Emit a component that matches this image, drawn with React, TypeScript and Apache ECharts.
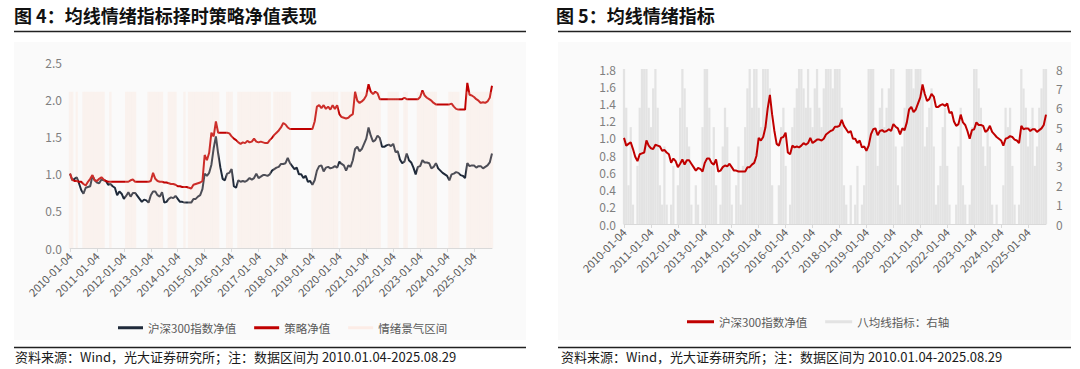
import React, { useEffect, useRef } from "react";
import * as echarts from "echarts";

// ---- tick labels / categories ----
const yearTicks = [
  "2010-01-04", "2011-01-04", "2012-01-04", "2013-01-04", "2014-01-04", "2015-01-04",
  "2016-01-04", "2017-01-04", "2018-01-04", "2019-01-04", "2020-01-04", "2021-01-04",
  "2022-01-04", "2023-01-04", "2024-01-04", "2025-01-04",
];
const lastDate = "2025-08-29";

// ---- series values (monthly samples) ----
const csi300 = [
  1.00, 0.91, 0.93, 0.95, 0.87, 0.78, 0.73, 0.81, 0.82, 0.83, 0.97, 0.91,
  0.88, 0.87, 0.92, 0.91, 0.90, 0.85, 0.86, 0.83, 0.81, 0.71, 0.76, 0.73,
  0.66, 0.70, 0.75, 0.69, 0.74, 0.74, 0.70, 0.66, 0.62, 0.65, 0.64, 0.61,
  0.71, 0.76, 0.76, 0.71, 0.69, 0.75, 0.61, 0.62, 0.66, 0.68, 0.67, 0.70,
  0.66, 0.62, 0.62, 0.61, 0.61, 0.61, 0.61, 0.66, 0.66, 0.69, 0.71, 0.79,
  1.00, 0.97, 1.01, 1.12, 1.34, 1.50, 1.27, 1.08, 0.93, 0.91, 1.00, 1.01,
  1.06, 0.83, 0.81, 0.91, 0.89, 0.90, 0.89, 0.91, 0.94, 0.92, 0.94, 1.00,
  0.94, 0.96, 0.98, 0.98, 0.97, 0.99, 1.04, 1.06, 1.08, 1.09, 1.13, 1.13,
  1.14, 1.21, 1.14, 1.10, 1.06, 1.08, 0.99, 0.99, 0.94, 0.97, 0.89, 0.90,
  0.85, 0.91, 1.04, 1.10, 1.11, 1.03, 1.08, 1.09, 1.07, 1.08, 1.10, 1.08,
  1.16, 1.13, 1.11, 1.04, 1.11, 1.09, 1.18, 1.33, 1.36, 1.30, 1.33, 1.40,
  1.47, 1.62, 1.51, 1.43, 1.45, 1.51, 1.48, 1.36, 1.36, 1.38, 1.39, 1.37,
  1.40, 1.29, 1.30, 1.19, 1.14, 1.16, 1.27, 1.18, 1.15, 1.08, 0.99, 1.09,
  1.10, 1.18, 1.15, 1.15, 1.14, 1.07, 1.09, 1.14, 1.07, 1.04, 1.01, 0.99,
  0.97, 0.91, 0.99, 1.00, 1.02, 1.01, 0.98, 0.97, 0.94, 1.14, 1.10, 1.11,
  1.11, 1.08, 1.10, 1.10, 1.07, 1.09, 1.11, 1.15, 1.27,
];

const strategy = [
  1.00, 0.92, 0.90, 0.90, 0.89, 0.89, 0.86, 0.84, 0.89, 0.93, 0.98, 0.91,
  0.90, 0.93, 0.95, 0.92, 0.90, 0.89, 0.89, 0.89, 0.89, 0.89, 0.89, 0.89,
  0.89, 0.89, 0.89, 0.91, 0.92, 0.89, 0.89, 0.89, 0.89, 0.89, 0.89, 0.89,
  0.90, 1.01, 0.93, 0.90, 0.89, 0.89, 0.88, 0.88, 0.87, 0.86, 0.86, 0.85,
  0.83, 0.83, 0.82, 0.82, 0.82, 0.81, 0.80, 0.85, 0.86, 0.87, 0.88, 0.90,
  1.25, 1.18, 1.28, 1.55, 1.50, 1.70, 1.55, 1.55, 1.55, 1.55, 1.55, 1.54,
  1.50, 1.47, 1.45, 1.42, 1.40, 1.42, 1.41, 1.44, 1.42, 1.43, 1.47, 1.43,
  1.42, 1.43, 1.42, 1.41, 1.41, 1.45, 1.48, 1.52, 1.55, 1.58, 1.62, 1.68,
  1.66, 1.62, 1.60, 1.60, 1.60, 1.60, 1.60, 1.60, 1.60, 1.60, 1.60, 1.60,
  1.60, 1.70, 1.90, 1.92, 1.88, 1.92, 1.87, 1.90, 1.86, 1.92, 1.87, 1.92,
  1.80, 1.76, 1.75, 1.74, 1.75, 1.78, 1.80, 2.10, 1.98, 1.95, 1.97, 2.00,
  2.05, 2.20, 2.10, 2.07, 2.10, 2.08, 2.00, 2.00, 2.00, 2.00, 2.00, 2.00,
  2.00, 2.00, 2.00, 2.00, 2.00, 2.02, 2.00, 2.00, 2.00, 2.00, 2.00, 2.00,
  2.03, 2.12, 2.05, 2.02, 2.00, 1.98, 1.95, 1.93, 1.93, 1.93, 1.93, 1.93,
  1.93, 1.93, 1.94, 1.90, 1.87, 1.86, 1.86, 1.86, 1.86, 2.22, 2.06, 2.05,
  2.03, 2.00, 1.98, 1.95, 1.96, 1.95, 1.97, 2.02, 2.18,
];

// 1 = inside the "情绪景气区间" shading
const sentimentOn = [
  1, 1, 0, 1, 0, 0, 1, 1, 1, 1, 1, 1,
  1, 1, 1, 1, 0, 0, 1, 0, 0, 0, 0, 0,
  0, 1, 1, 1, 1, 1, 0, 0, 0, 0, 0, 1,
  1, 1, 1, 1, 1, 1, 0, 0, 1, 1, 1, 1,
  0, 0, 0, 1, 0, 1, 1, 1, 1, 1, 1, 1,
  1, 1, 1, 1, 1, 1, 1, 0, 0, 0, 1, 1,
  1, 0, 0, 1, 1, 1, 1, 1, 1, 1, 1, 1,
  1, 1, 1, 1, 1, 1, 0, 1, 1, 1, 1, 1,
  1, 1, 1, 0, 0, 0, 0, 0, 0, 0, 0, 0,
  1, 1, 1, 1, 1, 1, 1, 1, 1, 1, 1, 1,
  0, 1, 1, 1, 1, 1, 1, 1, 1, 1, 1, 1,
  1, 1, 1, 1, 1, 1, 1, 0, 0, 0, 1, 1,
  1, 1, 1, 0, 0, 1, 1, 0, 0, 0, 0, 1,
  1, 1, 1, 1, 1, 1, 1, 1, 0, 0, 0, 0,
  0, 1, 1, 1, 1, 1, 0, 0, 0, 1, 1, 1,
  1, 1, 1, 1, 1, 1, 1, 1, 1,
];
const bandTop = 2.1;

// 八均线指标 (0-8, right axis)
const eightMA = [
  8, 6, 2, 5, 1, 0, 3, 6, 8, 8, 8, 6,
  5, 7, 8, 6, 2, 1, 4, 1, 0, 1, 3, 0,
  2, 6, 8, 7, 5, 4, 1, 0, 2, 1, 0, 5,
  8, 8, 6, 3, 5, 2, 0, 1, 4, 6, 5, 3,
  1, 0, 2, 4, 1, 3, 5, 7, 8, 6, 8, 8,
  6, 5, 8, 8, 8, 7, 2, 0, 0, 2, 5, 6,
  3, 0, 1, 5, 6, 7, 8, 8, 7, 6, 8, 6,
  5, 7, 8, 6, 5, 7, 8, 8, 8, 7, 8, 8,
  8, 6, 2, 1, 0, 2, 0, 1, 3, 0, 1, 2,
  4, 8, 8, 8, 5, 3, 6, 7, 5, 6, 7, 8,
  8, 4, 2, 1, 4, 6, 8, 8, 8, 7, 8, 8,
  8, 7, 4, 5, 6, 7, 4, 1, 2, 3, 5, 6,
  3, 1, 0, 0, 1, 4, 6, 2, 1, 0, 1, 5,
  8, 8, 7, 6, 4, 3, 5, 4, 1, 0, 1, 0,
  0, 2, 6, 5, 6, 3, 1, 0, 1, 8, 7, 6,
  4, 5, 6, 3, 4, 6, 7, 8, 8,
];

const categories: string[] = [];
yearTicks.forEach((t) => {
  const y = t.slice(0, 4);
  categories.push(t);
  for (let mo = 2; mo <= 12; mo++) {
    if (y === "2025" && mo > 8) break;
    categories.push(`${y}-${String(mo).padStart(2, "0")}-01`);
  }
});
categories.push(lastDate);

const FONT = '"Noto Sans CJK SC", "Noto Sans", sans-serif';
const NAVY = "#1f2a3a";
const RED = "#c00000";
const BAND = "rgba(250,212,196,0.22)";
const GRAY = "#e3e3e3";
const SOURCE = "资料来源：Wind，光大证券研究所；注：数据区间为 2010.01.04-2025.08.29";

const showTick = (i: number) => i % 12 === 0 && i < categories.length - 1;

function xAxisFor(gridIndex: number) {
  return {
    type: "category",
    gridIndex,
    data: categories,
    boundaryGap: false,
    axisLine: { lineStyle: { color: "#d9d9d9", width: 1 } },
    axisTick: { interval: showTick, length: 4, lineStyle: { color: "#d9d9d9" } },
    axisLabel: {
      interval: showTick,
      rotate: 45,
      fontSize: 11,
      color: "#595959",
      margin: 6,
      fontFamily: FONT,
    },
    splitLine: { show: false },
  };
}

const yLabel = { color: "#7f7f7f", fontSize: 12, fontFamily: FONT };

export default function App() {
  const ref = useRef<HTMLDivElement>(null);
  useEffect(() => {
    document.body.style.margin = "0";
    if (!ref.current) return;
    const chart = echarts.init(ref.current, undefined, { renderer: "svg" });
    const option: any = {
      animation: false,
      textStyle: { fontFamily: FONT },
      grid: [
        { left: 70, top: 62, width: 422, height: 186 },
        { left: 624, top: 69, width: 422, height: 155 },
      ],
      xAxis: [xAxisFor(0), xAxisFor(1)],
      yAxis: [
        {
          type: "value", gridIndex: 0, min: 0, max: 2.5, interval: 0.5,
          axisLine: { show: false }, axisTick: { show: false }, splitLine: { show: false },
          axisLabel: { ...yLabel, formatter: (v: number) => v.toFixed(1) },
        },
        {
          type: "value", gridIndex: 1, min: 0, max: 1.8, interval: 0.2,
          axisLine: { show: false }, axisTick: { show: false }, splitLine: { show: false },
          axisLabel: { ...yLabel, formatter: (v: number) => v.toFixed(1) },
        },
        {
          type: "value", gridIndex: 1, position: "right", min: 0, max: 8, interval: 1,
          axisLine: { show: false }, axisTick: { show: false }, splitLine: { show: false },
          axisLabel: { ...yLabel, margin: 10 },
        },
      ],
      legend: [
        {
          left: 113, top: 317, icon: "rect", itemWidth: 25, itemHeight: 3, itemGap: 18,
          selectedMode: false,
          textStyle: { fontSize: 11.5, color: "#595959", fontFamily: FONT },
          data: [
            { name: "沪深300指数净值", itemStyle: { color: NAVY } },
            { name: "策略净值", itemStyle: { color: RED } },
            { name: "情绪景气区间", itemStyle: { color: "#fcece6" } },
          ],
        },
        {
          left: 682, top: 311, icon: "rect", itemWidth: 27, itemHeight: 3, itemGap: 18,
          selectedMode: false,
          textStyle: { fontSize: 11.5, color: "#595959", fontFamily: FONT },
          data: [
            { name: "沪深300指数净值", itemStyle: { color: RED } },
            { name: "八均线指标：右轴", itemStyle: { color: "#e3e3e3" } },
          ],
        },
      ],
      series: [
        {
          name: "沪深300指数净值", type: "line", xAxisIndex: 0, yAxisIndex: 0,
          data: csi300, symbol: "none", z: 2,
          lineStyle: { color: NAVY, width: 2 }, itemStyle: { color: NAVY },
        },
        {
          name: "策略净值", type: "line", xAxisIndex: 0, yAxisIndex: 0,
          data: strategy, symbol: "none", z: 3,
          lineStyle: { color: RED, width: 2 }, itemStyle: { color: RED },
        },
        {
          name: "情绪景气区间", type: "bar", xAxisIndex: 0, yAxisIndex: 0,
          data: sentimentOn.map((b) => (b ? bandTop : "-")),
          barCategoryGap: "0%", z: 5, itemStyle: { color: BAND },
        },
        {
          name: "八均线指标：右轴", type: "bar", xAxisIndex: 1, yAxisIndex: 2,
          data: eightMA, barCategoryGap: "0%", z: 1, itemStyle: { color: GRAY },
        },
        {
          name: "沪深300指数净值", type: "line", xAxisIndex: 1, yAxisIndex: 1,
          data: csi300, symbol: "none", z: 3,
          lineStyle: { color: RED, width: 2 }, itemStyle: { color: RED },
        },
      ],
      graphic: [
        { type: "rect", z: -10, silent: true, shape: { x: 14, y: 42, width: 512, height: 298 }, style: { fill: "#fafafa" } },
        { type: "rect", z: -10, silent: true, shape: { x: 558, y: 42, width: 513, height: 298 }, style: { fill: "#fafafa" } },
        {
          type: "text", left: 14, top: 6,
          style: { text: "图 4：均线情绪指标择时策略净值表现", font: `bold 18px ${FONT}`, fill: "#111" },
        },
        {
          type: "text", left: 556, top: 6,
          style: { text: "图 5：均线情绪指标", font: `bold 18px ${FONT}`, fill: "#111" },
        },
        { type: "line", shape: { x1: 14, y1: 31.5, x2: 526, y2: 31.5 }, style: { stroke: "#222", lineWidth: 1.3 } },
        { type: "line", shape: { x1: 558, y1: 31.5, x2: 1071, y2: 31.5 }, style: { stroke: "#222", lineWidth: 1.3 } },
        { type: "line", shape: { x1: 14, y1: 347.5, x2: 526, y2: 347.5 }, style: { stroke: "#222", lineWidth: 1.3 } },
        { type: "line", shape: { x1: 558, y1: 347.5, x2: 1071, y2: 347.5 }, style: { stroke: "#222", lineWidth: 1.3 } },
        {
          type: "text", left: 15, top: 350,
          style: { text: SOURCE, font: `13px ${FONT}`, fill: "#1a1a1a" },
        },
        {
          type: "text", left: 561, top: 350,
          style: { text: SOURCE, font: `13px ${FONT}`, fill: "#1a1a1a" },
        },
      ],
    };
    chart.setOption(option);
    return () => chart.dispose();
  }, []);
  return <div ref={ref} style={{ width: 1080, height: 369 }} />;
}
